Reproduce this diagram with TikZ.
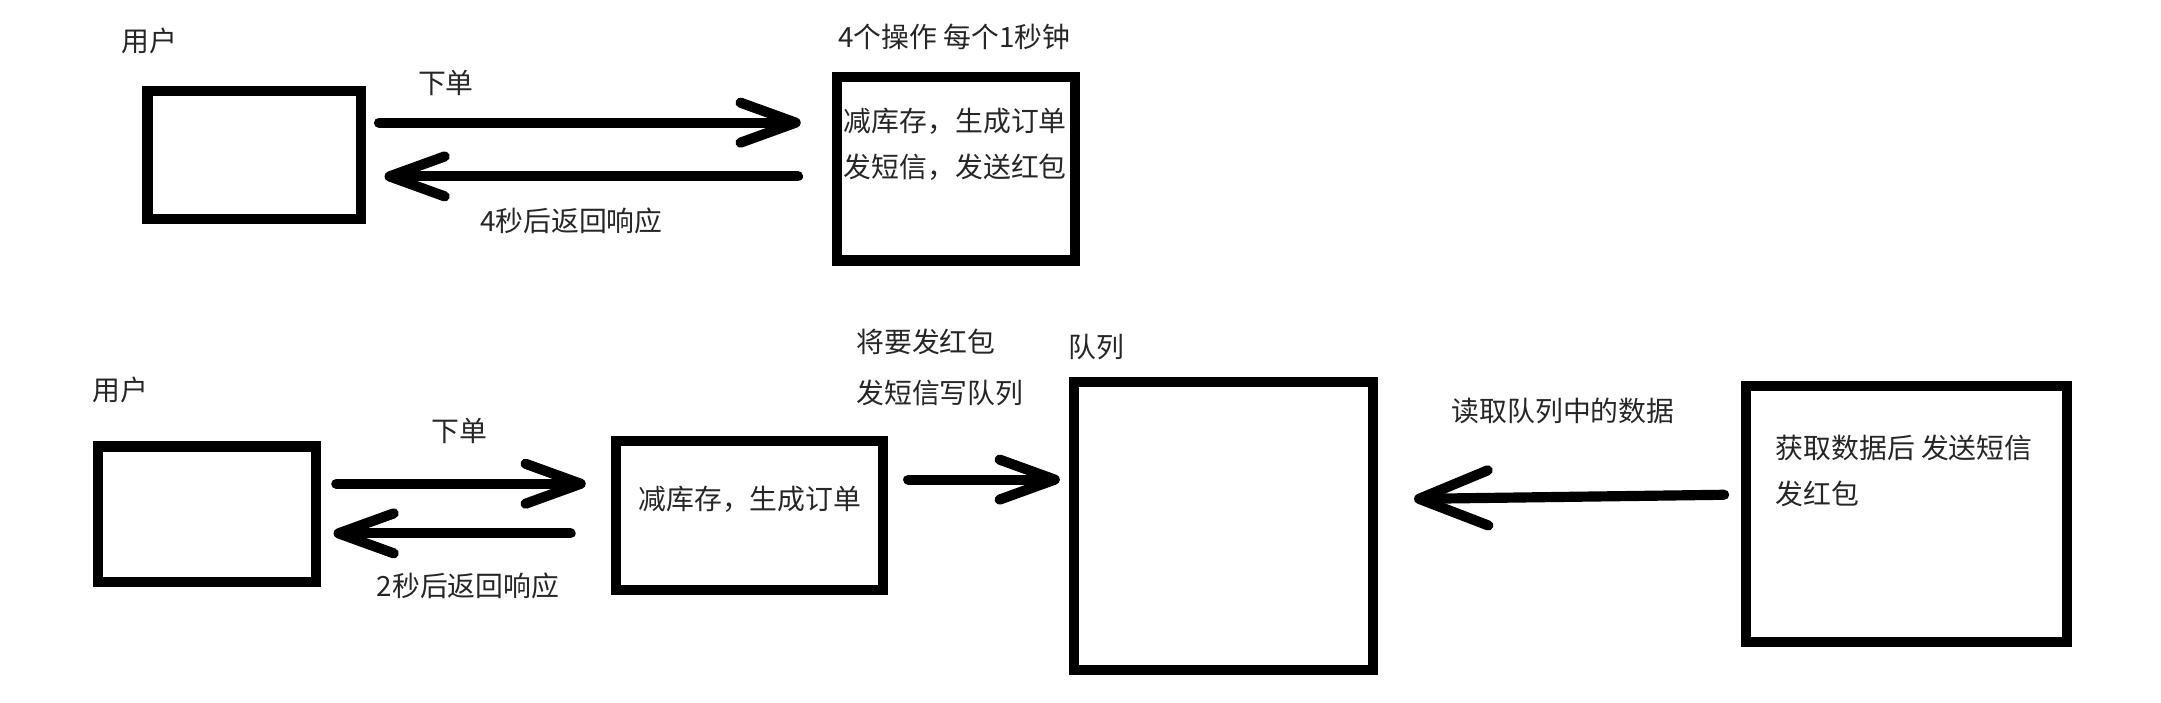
\documentclass[tikz,border=0pt]{standalone}
\usepackage{fontspec}
\setmainfont{Noto Sans CJK SC}
\usetikzlibrary{arrows.meta}
\begin{document}
\begin{tikzpicture}[x=0.02cm,y=-0.02cm,
  box/.style={draw, line width=4.2pt, inner sep=0pt, outer sep=0pt},
  lbl/.style={anchor=west, inner sep=0pt, font=\fontsize{11.5}{14}\selectfont, text=black!85},
  arr/.style={line width=4.2pt, line cap=round,
    -{Straight Barb[length=0.8cm,width=0.58cm,round]}},
  bigarr/.style={line width=4.2pt, line cap=round,
    -{Straight Barb[length=1.0cm,width=0.8cm,round]}}]
\useasboundingbox (0,0) rectangle (1568,510);
\fill[white] (0,0) rectangle (1568,510);
% boxes
\node[box, minimum width=3.10cm, minimum height=1.86cm] (u1) at (184.5,112.5) {};
\node[box, minimum width=3.46cm, minimum height=2.66cm] (op) at (693.5,122.5) {};
\node[box, minimum width=3.16cm, minimum height=1.96cm] (u2) at (150,373) {};
\node[box, minimum width=3.88cm, minimum height=2.16cm] (s) at (544,374) {};
\node[box, minimum width=4.34cm, minimum height=4.18cm] (q) at (887.5,381.5) {};
\node[box, minimum width=4.66cm, minimum height=3.72cm] (c) at (1383.5,373) {};
% labels
\node[lbl] (t1) at (88,30) {用户};
\node[lbl] (t2) at (303,60) {下单};
\node[lbl] (t3) at (348,160) {4秒后返回响应};
\node[lbl] (t4) at (608,27) {4个操作 每个1秒钟};
\node[lbl] (t5) at (612,88) {减库存，生成订单};
\node[lbl] (t6) at (612,121) {发短信，发送红包};
\node[lbl] (t7) at (67,283) {用户};
\node[lbl] (t8) at (313,313) {下单};
\node[lbl] (t9) at (273,425) {2秒后返回响应};
\node[lbl] (t10) at (463,362) {减库存，生成订单};
\node[lbl] (t11) at (621,248) {将要发红包};
\node[lbl] (t12) at (621,285) {发短信写队列};
\node[lbl] (t13) at (775,252) {队列};
\node[lbl] (t14) at (1053,298) {读取队列中的数据};
\node[lbl] (t15) at (1288,325) {获取数据后 发送短信};
\node[lbl] (t16) at (1288,358) {发红包};
% arrows
\draw[arr] ([shift={(13,-23.5)}]u1.east) -- ([shift={(-26,-33.5)}]op.west);
\draw[arr] ([shift={(-28,5.5)}]op.west) -- ([shift={(17,15.5)}]u1.east);
\draw[arr] ([shift={(15,-22)}]u2.east) -- ([shift={(-22,-23)}]s.west);
\draw[arr] ([shift={(-33,13)}]s.west) -- ([shift={(13,14)}]u2.east);
\draw[arr] ([shift={(18,-26)}]s.east) -- ([shift={(-10,-33.5)}]q.west);
\draw[bigarr] ([shift={(-16,-14)}]c.west) -- ([shift={(30,-19.5)}]q.east);
\end{tikzpicture}
\end{document}
